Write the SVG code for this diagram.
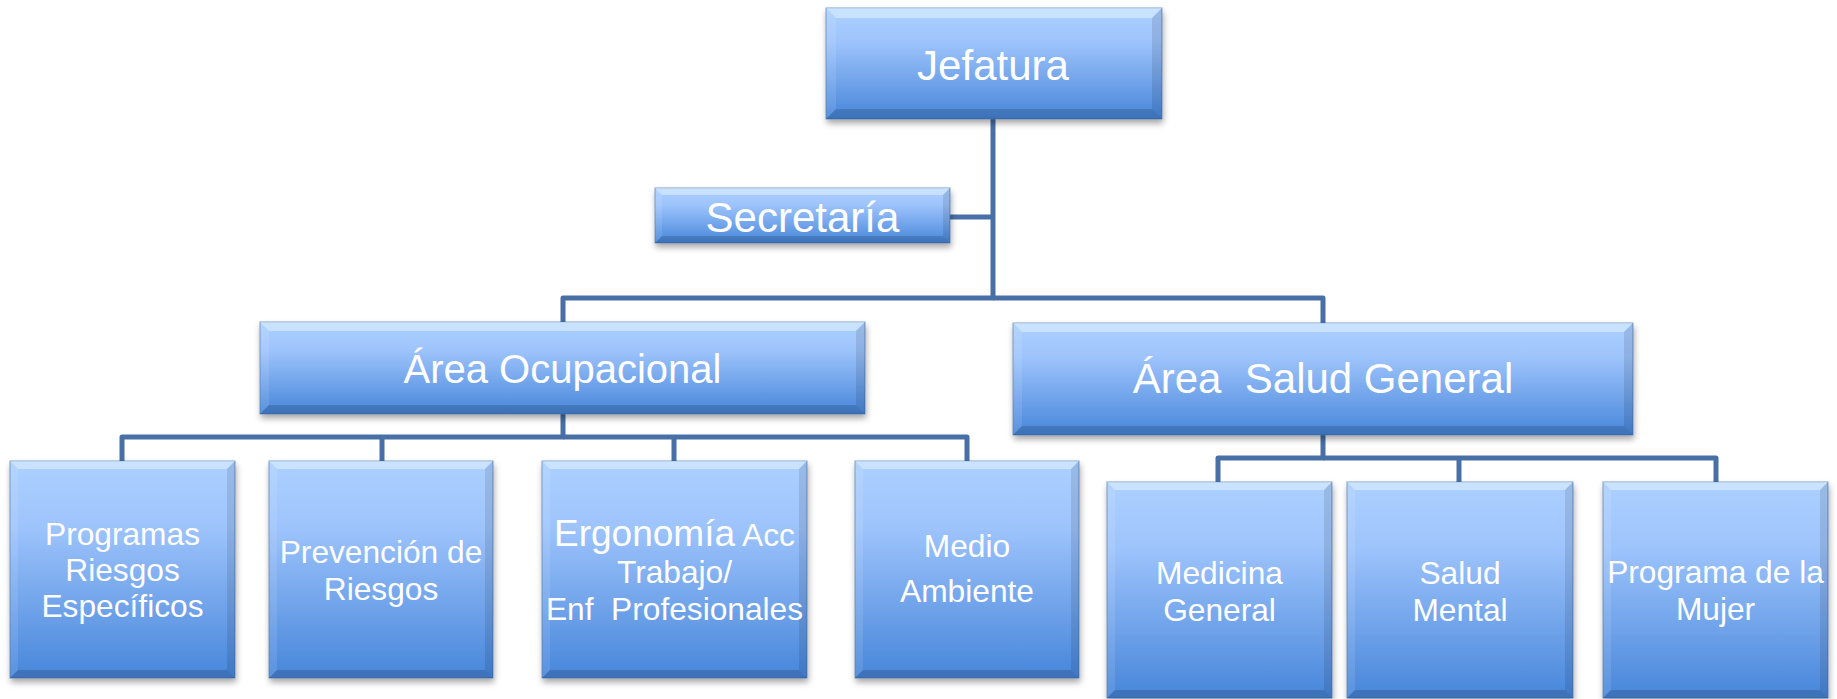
<svg xmlns="http://www.w3.org/2000/svg" width="1837" height="699" viewBox="0 0 1837 699">
<defs>
<linearGradient id="fill" x1="0" y1="0" x2="0" y2="1">
<stop offset="0" stop-color="#acd0ff"/>
<stop offset="0.3" stop-color="#9ec4fc"/>
<stop offset="1" stop-color="#4786da"/>
</linearGradient>
<filter id="sh" x="-10%" y="-10%" width="120%" height="130%">
<feDropShadow dx="1" dy="4" stdDeviation="3" flood-color="#000" flood-opacity="0.35"/>
</filter>
<style>
.box{fill:url(#fill);stroke:#3d68a3;stroke-width:1;stroke-opacity:0.6;filter:url(#sh)}
.bt{fill:#e8f6ff;fill-opacity:0.5}
.bl{fill:#fff;fill-opacity:0.1}
.br{fill:#000;fill-opacity:0.1}
.bb{fill:#000;fill-opacity:0.15}
text{font-family:"Liberation Sans",Arial,sans-serif;fill:#fff;text-anchor:middle}
.big{font-size:42px}
.sm{font-size:31.7px}
.conn{fill:none;stroke:#4870a6;stroke-width:5;stroke-linejoin:round;stroke-linecap:butt}
</style>
</defs>
<rect width="1837" height="699" fill="#fff"/>
<g id="connectors">
<path class="conn" d="M993,119 V298 H563 V322"/>
<path class="conn" d="M993,298 H1323 V323"/>
<path class="conn" d="M993,217 H950"/>
<path class="conn" d="M563,414 V437 H122 V461"/>
<path class="conn" d="M563,437 H967 V461"/>
<path class="conn" d="M382,437 V461"/>
<path class="conn" d="M674,437 V461"/>
<path class="conn" d="M1323,435 V458 H1218 V482"/>
<path class="conn" d="M1323,458 H1716 V482"/>
<path class="conn" d="M1459,458 V482"/>
</g>
<g id="jefatura" transform="translate(826,8)">
<rect class="box" width="336" height="111"/>
<polygon class="bt" points="0,0 336,0 326,10 10,10"/>
<polygon class="bl" points="0,0 10,10 10,101 0,111"/>
<polygon class="br" points="336,0 336,111 326,101 326,10"/>
<polygon class="bb" points="0,111 10,101 326,101 336,111"/>
<text class="big" x="167" y="72">Jefatura</text>
</g>
<g id="secretaria" transform="translate(655,188)">
<rect class="box" width="295" height="55"/>
<polygon class="bt" points="0,0 295,0 288,7 7,7"/>
<polygon class="bl" points="0,0 7,7 7,48 0,55"/>
<polygon class="br" points="295,0 295,55 288,48 288,7"/>
<polygon class="bb" points="0,55 7,48 288,48 295,55"/>
<text class="big" x="147.5" y="44">Secretaría</text>
</g>
<g id="area-ocupacional" transform="translate(260,322)">
<rect class="box" width="605" height="92"/>
<polygon class="bt" points="0,0 605,0 596,9 9,9"/>
<polygon class="bl" points="0,0 9,9 9,83 0,92"/>
<polygon class="br" points="605,0 605,92 596,83 596,9"/>
<polygon class="bb" points="0,92 9,83 596,83 605,92"/>
<text x="302.5" y="61" style="font-size:40px">Área Ocupacional</text>
</g>
<g id="area-salud-general" transform="translate(1013,323)">
<rect class="box" width="620" height="112"/>
<polygon class="bt" points="0,0 620,0 611,9 9,9"/>
<polygon class="bl" points="0,0 9,9 9,103 0,112"/>
<polygon class="br" points="620,0 620,112 611,103 611,9"/>
<polygon class="bb" points="0,112 9,103 611,103 620,112"/>
<text class="big" x="310" y="70" xml:space="preserve" style="white-space:pre">Área  Salud General</text>
</g>
<g id="programas" transform="translate(10,461)">
<rect class="box" width="225" height="217"/>
<polygon class="bt" points="0,0 225,0 217,8 8,8"/>
<polygon class="bl" points="0,0 8,8 8,209 0,217"/>
<polygon class="br" points="225,0 225,217 217,209 217,8"/>
<polygon class="bb" points="0,217 8,209 217,209 225,217"/>
<text class="sm" x="112.5" y="84">Programas</text>
<text class="sm" x="112.5" y="120">Riesgos</text>
<text class="sm" x="112.5" y="156">Específicos</text>
</g>
<g id="prevencion" transform="translate(269,461)">
<rect class="box" width="224" height="217"/>
<polygon class="bt" points="0,0 224,0 216,8 8,8"/>
<polygon class="bl" points="0,0 8,8 8,209 0,217"/>
<polygon class="br" points="224,0 224,217 216,209 216,8"/>
<polygon class="bb" points="0,217 8,209 216,209 224,217"/>
<text class="sm" x="112" y="102">Prevención de</text>
<text class="sm" x="112" y="139">Riesgos</text>
</g>
<g id="ergonomia" transform="translate(542,461)">
<rect class="box" width="265" height="217"/>
<polygon class="bt" points="0,0 265,0 257,8 8,8"/>
<polygon class="bl" points="0,0 8,8 8,209 0,217"/>
<polygon class="br" points="265,0 265,217 257,209 257,8"/>
<polygon class="bb" points="0,217 8,209 257,209 265,217"/>
<text class="sm" x="132.5" y="85"><tspan style="font-size:37px">Ergonomía</tspan> Acc</text>
<text class="sm" x="132.5" y="122">Trabajo/</text>
<text class="sm" x="132.5" y="159" xml:space="preserve" style="white-space:pre">Enf  Profesionales</text>
</g>
<g id="medio-ambiente" transform="translate(855,461)">
<rect class="box" width="224" height="217"/>
<polygon class="bt" points="0,0 224,0 216,8 8,8"/>
<polygon class="bl" points="0,0 8,8 8,209 0,217"/>
<polygon class="br" points="224,0 224,217 216,209 216,8"/>
<polygon class="bb" points="0,217 8,209 216,209 224,217"/>
<text class="sm" x="112" y="96">Medio</text>
<text class="sm" x="112" y="141">Ambiente</text>
</g>
<g id="medicina-general" transform="translate(1107,482)">
<rect class="box" width="225" height="216"/>
<polygon class="bt" points="0,0 225,0 217,8 8,8"/>
<polygon class="bl" points="0,0 8,8 8,208 0,216"/>
<polygon class="br" points="225,0 225,216 217,208 217,8"/>
<polygon class="bb" points="0,216 8,208 217,208 225,216"/>
<text class="sm" x="112.5" y="102">Medicina</text>
<text class="sm" x="112.5" y="139">General</text>
</g>
<g id="salud-mental" transform="translate(1347,482)">
<rect class="box" width="226" height="216"/>
<polygon class="bt" points="0,0 226,0 218,8 8,8"/>
<polygon class="bl" points="0,0 8,8 8,208 0,216"/>
<polygon class="br" points="226,0 226,216 218,208 218,8"/>
<polygon class="bb" points="0,216 8,208 218,208 226,216"/>
<text class="sm" x="113" y="102">Salud</text>
<text class="sm" x="113" y="139">Mental</text>
</g>
<g id="programa-mujer" transform="translate(1603,482)">
<rect class="box" width="225" height="216"/>
<polygon class="bt" points="0,0 225,0 217,8 8,8"/>
<polygon class="bl" points="0,0 8,8 8,208 0,216"/>
<polygon class="br" points="225,0 225,216 217,208 217,8"/>
<polygon class="bb" points="0,216 8,208 217,208 225,216"/>
<text class="sm" x="112.5" y="101">Programa de la</text>
<text class="sm" x="112.5" y="138">Mujer</text>
</g>
</svg>
